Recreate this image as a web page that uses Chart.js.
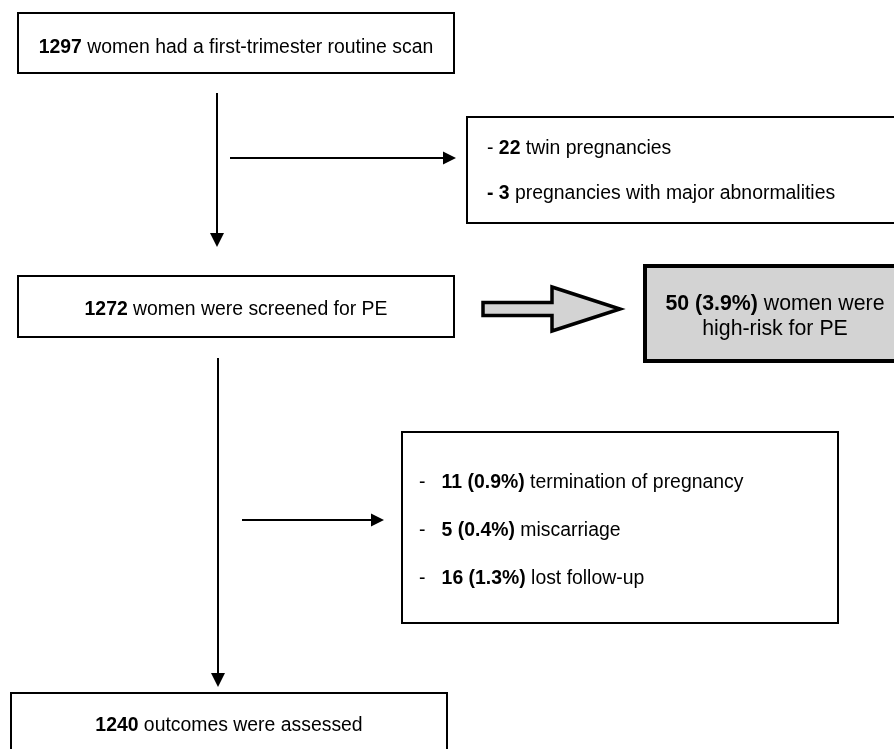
<!DOCTYPE html>
<html>
<head>
<meta charset="utf-8">
<script src="https://cdn.jsdelivr.net/npm/chart.js@4.4.1/dist/chart.umd.min.js"></script>
<style>
  html, body { margin: 0; padding: 0; background: #fff; }
  #flow { display: block; }
</style>
</head>
<body>
<canvas id="flow" width="894" height="749"></canvas>
<script>
// counts shown in the flow chart
const screenedCounts = [1297, 1272, 1240];
const excludedCounts = [22, 3];
const highRisk = [50, 3.9];
const lossCounts = [11, 5, 16];
const lossPercents = [0.9, 0.4, 1.3];
const lossLabels = ['termination of pregnancy', 'miscarriage', 'lost follow-up'];

// layout of the boxes in page units (x right, y down)
const layout = {
    top:      { x0: 18, x1: 454, y0: 13, y1: 73 },
    excluded: { x0: 467, x1: 910, y0: 117, y1: 223 },
    screened: { x0: 18, x1: 454, y0: 276, y1: 337 },
    risk:     { x0: 645, x1: 907, y0: 266, y1: 361 },
    losses:   { x0: 402, x1: 838, y0: 432, y1: 623 },
    assessed: { x0: 11, x1: 447, y0: 693, y1: 780 }
};

const FONT = '"Liberation Sans", Arial, Helvetica, sans-serif';
const SIZE = 19.4;

function drawRuns(ctx, runs, x, y, size, align) {
    let total = 0;
    runs.forEach(r => {
        ctx.font = (r.b ? 'bold ' : '') + size + 'px ' + FONT;
        r.w = ctx.measureText(r.t).width;
        total += r.w;
    });
    let cx = align === 'center' ? x - total / 2 : x;
    runs.forEach(r => {
        ctx.font = (r.b ? 'bold ' : '') + size + 'px ' + FONT;
        ctx.fillText(r.t, cx, y);
        cx += r.w;
    });
}

const flowPlugin = {
    id: 'flow',
    afterDraw(chart) {
        const ctx = chart.ctx;
        const sx = chart.scales.x, sy = chart.scales.y;
        const X = v => sx.getPixelForValue(v);
        const Y = v => sy.getPixelForValue(v);

        ctx.save();
        ctx.fillStyle = '#fff';
        ctx.fillRect(0, 0, chart.width, chart.height);
        ctx.textBaseline = 'middle';
        ctx.strokeStyle = '#000';
        ctx.lineJoin = 'miter';

        function box(b, lw, fill) {
            ctx.lineWidth = lw;
            if (fill) {
                ctx.fillStyle = fill;
                ctx.fillRect(X(b.x0), Y(b.y0), X(b.x1) - X(b.x0), Y(b.y1) - Y(b.y0));
            }
            ctx.strokeRect(X(b.x0), Y(b.y0), X(b.x1) - X(b.x0), Y(b.y1) - Y(b.y0));
        }

        function arrowDown(x, y0, y1) {
            ctx.lineWidth = 2;
            ctx.beginPath();
            ctx.moveTo(X(x), Y(y0));
            ctx.lineTo(X(x), Y(y1 - 12));
            ctx.stroke();
            ctx.fillStyle = '#000';
            ctx.beginPath();
            ctx.moveTo(X(x - 7), Y(y1 - 14));
            ctx.lineTo(X(x + 7), Y(y1 - 14));
            ctx.lineTo(X(x), Y(y1));
            ctx.closePath();
            ctx.fill();
        }

        function arrowRight(x0, x1, y) {
            ctx.lineWidth = 2;
            ctx.beginPath();
            ctx.moveTo(X(x0), Y(y));
            ctx.lineTo(X(x1 - 10), Y(y));
            ctx.stroke();
            ctx.fillStyle = '#000';
            ctx.beginPath();
            ctx.moveTo(X(x1 - 13), Y(y - 6.5));
            ctx.lineTo(X(x1 - 13), Y(y + 6.5));
            ctx.lineTo(X(x1), Y(y));
            ctx.closePath();
            ctx.fill();
        }

        // boxes
        box(layout.top, 2);
        box(layout.excluded, 2);
        box(layout.screened, 2);
        box(layout.losses, 2);
        box(layout.assessed, 2);
        box(layout.risk, 4, '#d3d3d3');

        // connectors
        arrowDown(217, 93, 247);
        arrowRight(230, 456, 158);
        arrowDown(218, 358, 687);
        arrowRight(242, 384, 520);

        // block arrow to high-risk box
        ctx.beginPath();
        ctx.moveTo(X(483), Y(302.5));
        ctx.lineTo(X(552), Y(302.5));
        ctx.lineTo(X(552), Y(287));
        ctx.lineTo(X(620), Y(309));
        ctx.lineTo(X(552), Y(331));
        ctx.lineTo(X(552), Y(315.5));
        ctx.lineTo(X(483), Y(315.5));
        ctx.closePath();
        ctx.fillStyle = '#d3d3d3';
        ctx.fill();
        ctx.lineWidth = 3.5;
        ctx.stroke();

        // texts
        ctx.fillStyle = '#000';
        const t = layout.top;
        drawRuns(ctx, [{ t: String(screenedCounts[0]), b: true }, { t: ' women had a first-trimester routine scan' }],
            X((t.x0 + t.x1) / 2), Y(47.5), SIZE, 'center');

        drawRuns(ctx, [{ t: '- ' }, { t: String(excludedCounts[0]), b: true }, { t: ' twin pregnancies' }],
            X(487), Y(148.5), SIZE, 'left');
        drawRuns(ctx, [{ t: '- ' + excludedCounts[1], b: true }, { t: ' pregnancies with major abnormalities' }],
            X(487), Y(193.5), SIZE, 'left');

        const s = layout.screened;
        drawRuns(ctx, [{ t: String(screenedCounts[1]), b: true }, { t: ' women were screened for PE' }],
            X((s.x0 + s.x1) / 2), Y(310), SIZE, 'center');

        drawRuns(ctx, [{ t: highRisk[0] + ' (' + highRisk[1].toFixed(1) + '%)', b: true }, { t: ' women were' }],
            X(775), Y(304), 21.3, 'center');
        drawRuns(ctx, [{ t: 'high-risk for PE' }], X(775), Y(329), 21.3, 'center');

        const lossY = [483, 531, 579];
        lossCounts.forEach((n, i) => {
            drawRuns(ctx, [{ t: '-   ' }, { t: n + ' (' + lossPercents[i].toFixed(1) + '%)', b: true }, { t: ' ' + lossLabels[i] }],
                X(419), Y(lossY[i]), SIZE, 'left');
        });

        const a = layout.assessed;
        drawRuns(ctx, [{ t: String(screenedCounts[2]), b: true }, { t: ' outcomes were assessed' }],
            X((a.x0 + a.x1) / 2), Y(726), SIZE, 'center');

        ctx.restore();
    }
};

new Chart(document.getElementById('flow'), {
    type: 'scatter',
    data: { datasets: [{ data: [], pointRadius: 0 }] },
    options: {
        responsive: false,
        animation: false,
        devicePixelRatio: 1,
        layout: { padding: 0 },
        plugins: { legend: { display: false }, tooltip: { enabled: false } },
        scales: {
            x: { type: 'linear', min: 0, max: 894, display: false },
            y: { type: 'linear', min: 0, max: 749, reverse: true, display: false }
        }
    },
    plugins: [flowPlugin]
});
</script>
</body>
</html>
